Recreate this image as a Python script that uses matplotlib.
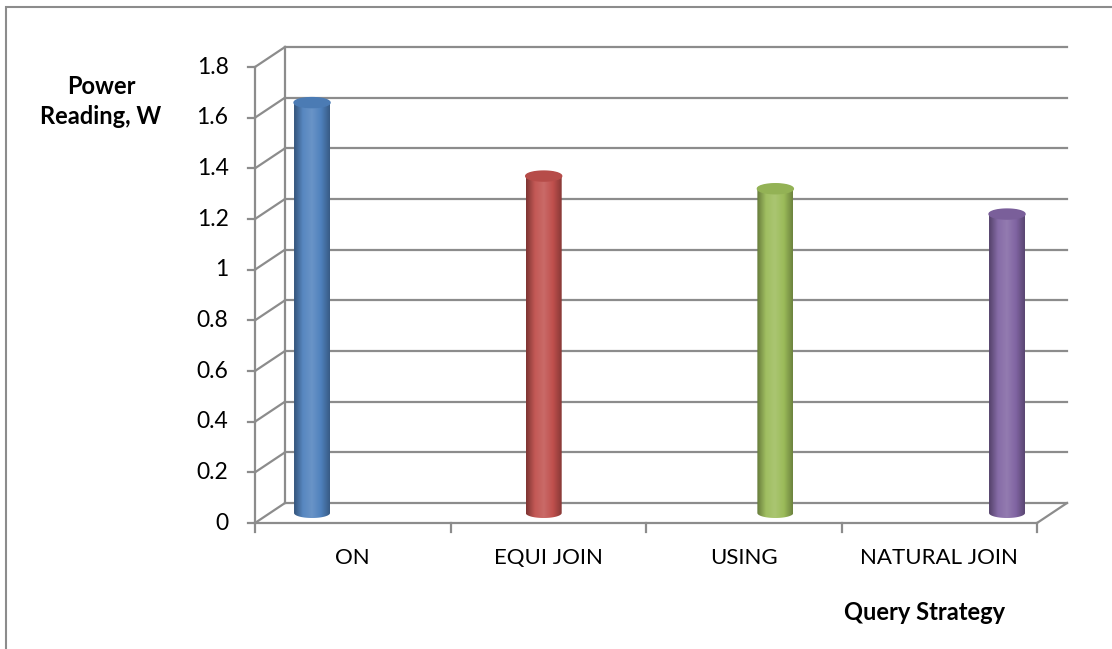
import numpy as np
import matplotlib.pyplot as plt
from matplotlib.path import Path
from matplotlib.patches import PathPatch, Rectangle
from matplotlib.colors import LinearSegmentedColormap

# data
strategies = ["ON", "EQUI JOIN", "USING", "NATURAL JOIN"]
power = [1.62, 1.33, 1.28, 1.18]
bar_colors = ["#4F81BD", "#C0504D", "#9BBB59", "#8064A2"]
yticks = [0, 0.2, 0.4, 0.6, 0.8, 1, 1.2, 1.4, 1.6, 1.8]

plt.rcParams['font.family'] = ['Lato', 'DejaVu Sans']

W, H = 1112, 649
fig = plt.figure(figsize=(W / 100, H / 100), dpi=100)

# frame around the chart (only left/top visible)
fig.add_artist(Rectangle((6 / W, -0.1), 1.2, (H - 7) / H + 0.1, transform=fig.transFigure,
                         fill=False, edgecolor="#8c8c8c", linewidth=1.5))

ax = fig.add_axes([255 / W, (H - 523) / H, (1037 - 255) / W, (523 - 67) / H])
ax.set_xlim(0, 4)
ax.set_ylim(0, 1.8)
ax.axis("off")

# depth offset of the back wall in data units
dx = 30 / (1037 - 255) * 4
dy = 20 / (523 - 67) * 1.8
gc = "#8c8c8c"
lw = 1.6

# back wall gridlines + side wall diagonals
for t in yticks:
    ax.plot([dx, 4 + dx], [t + dy, t + dy], color=gc, lw=lw, clip_on=False)
    ax.plot([0, dx], [t, t + dy], color=gc, lw=lw, clip_on=False)
    ax.plot([-0.035, 0], [t, t], color=gc, lw=lw, clip_on=False)
    ax.text(-0.135, t, f"{t:g}", ha="right", va="center", fontsize=16.5)
ax.plot([dx, dx], [dy, 1.8 + dy], color=gc, lw=lw, clip_on=False)
# floor
ax.plot([0, 0], [0, 1.8], color=gc, lw=lw, clip_on=False)
ax.plot([0, 4], [0, 0], color=gc, lw=lw, clip_on=False)
ax.plot([4, 4 + dx], [0, dy], color=gc, lw=lw, clip_on=False)
for i in range(5):
    ax.plot([i, i], [0, -0.035], color=gc, lw=lw, clip_on=False)
for i, s in enumerate(strategies):
    ax.text(i + 0.5, -0.14, s, ha="center", va="center", fontsize=16)

# cylinders
bw = 36 / (1037 - 255) * 4
eh = 10 / (523 - 67) * 1.8
pos = 0.215 + np.arange(4) * 1.185


def shade(c, k):
    c = np.array(plt.matplotlib.colors.to_rgb(c))
    if k < 0:
        return tuple(c * (1 + k))
    return tuple(c + (1 - c) * k)


for x0, v, c in zip(pos, power, bar_colors):
    xc = x0 + dx / 2
    base = dy / 2
    top = base + v
    th = np.linspace(0, np.pi, 40)
    # outline: bottom half-ellipse then up and over the top half-ellipse
    bx = xc - bw / 2 * np.cos(th)
    by = base - eh / 2 * np.sin(th)
    tx = xc + bw / 2 * np.cos(th)
    ty = top + eh / 2 * np.sin(th)
    verts = np.concatenate([np.c_[bx, by], np.c_[tx, ty]])
    patch = PathPatch(Path(verts), facecolor="none", edgecolor="none")
    ax.add_patch(patch)
    cmap = LinearSegmentedColormap.from_list(
        "cyl", [shade(c, -0.35), shade(c, 0.05), shade(c, 0.15), c, shade(c, -0.3)])
    grad = np.linspace(0, 1, 256).reshape(1, -1)
    im = ax.imshow(grad, cmap=cmap, aspect="auto",
                   extent=[xc - bw / 2, xc + bw / 2, base - eh, top + eh],
                   clip_on=True, zorder=3)
    im.set_clip_path(patch)
    # top cap
    th2 = np.linspace(0, 2 * np.pi, 80)
    ax.fill(xc + bw / 2 * np.cos(th2), top + eh / 2 * np.sin(th2),
            color=shade(c, -0.05), zorder=4, clip_on=False)
ax.set_xlim(0, 4)
ax.set_ylim(0, 1.8)

fig.text(101 / W, 1 - 86 / H, "Power", ha="center", va="center", fontsize=17, fontweight="bold")
fig.text(101 / W, 1 - 117 / H, "Reading, W", ha="center", va="center", fontsize=17, fontweight="bold")
fig.text(925 / W, 1 - 612 / H, "Query Strategy", ha="center", va="center", fontsize=17, fontweight="bold")

fig.savefig("out.png", dpi=100)
